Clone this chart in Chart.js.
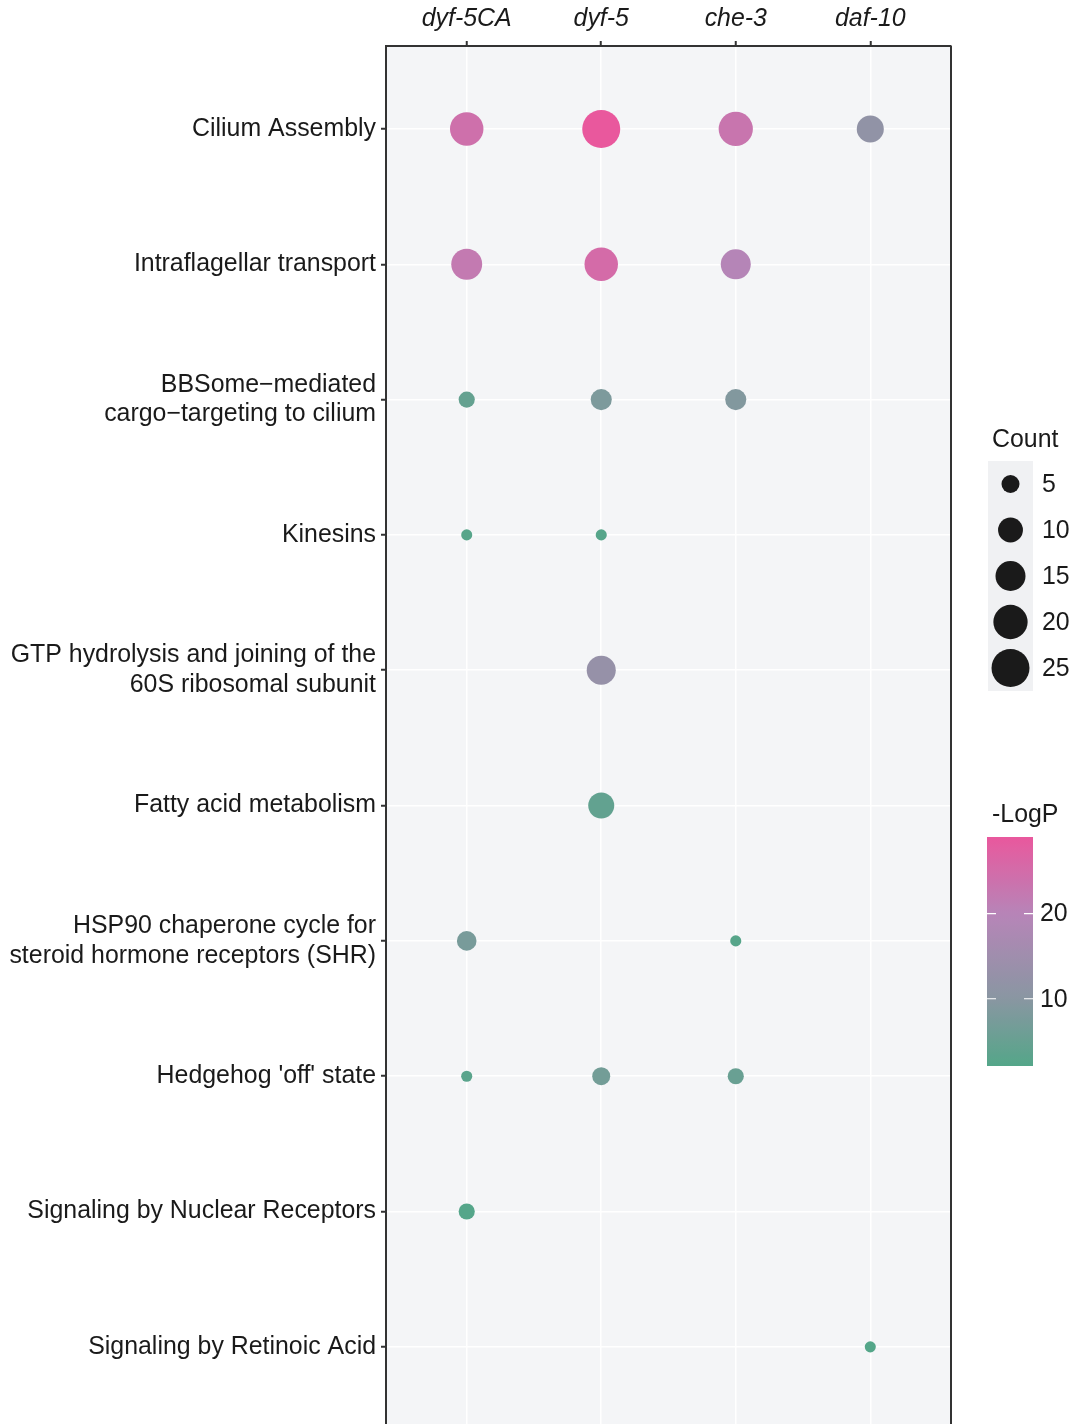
<!DOCTYPE html>
<html>
<head>
<meta charset="utf-8">
<title>Pathway enrichment dot plot</title>
<script src="https://cdn.jsdelivr.net/npm/chart.js@4.4.1/dist/chart.umd.min.js"></script>
<style>
  html, body { margin: 0; padding: 0; background: #ffffff; }
  #wrap { width: 1075px; height: 1424px; position: relative; overflow: hidden; }
</style>
</head>
<body>
<div id="wrap"><canvas id="plot" width="1075" height="1424"></canvas></div>
<script>
// Genes along the top axis
const genes = ['dyf-5CA', 'dyf-5', 'che-3', 'daf-10'];

// Enriched pathways, top to bottom ('\n' breaks a label into two lines)
const pathways = [
  'Cilium Assembly',
  'Intraflagellar transport',
  'BBSome\u2212mediated\ncargo\u2212targeting to cilium',
  'Kinesins',
  'GTP hydrolysis and joining of the\n60S ribosomal subunit',
  'Fatty acid metabolism',
  'HSP90 chaperone cycle for\nsteroid hormone receptors (SHR)',
  "Hedgehog 'off' state",
  'Signaling by Nuclear Receptors',
  'Signaling by Retinoic Acid'
];

// Gene counts per pathway (null = not enriched)
const countDyf5CA = [19, 16, 4, 2, null, null, 6, 2, 4, null];
const countDyf5   = [25, 19, 7, 2, 14, 11, null, 5, null, null];
const countChe3   = [20, 15, 7, null, null, null, 2, 4, null, null];
const countDaf10  = [12, null, null, null, null, null, null, null, null, 2];

// -log10(P) per pathway
const logpDyf5CA = [24.2, 22.1, 4.5, 2.5, null, null, 7.5, 3.0, 2.3, null];
const logpDyf5   = [29.0, 25.2, 8.2, 2.4, 12.9, 4.2, null, 6.7, null, null];
const logpChe3   = [23.1, 19.6, 9.0, null, null, null, 2.5, 5.3, null, null];
const logpDaf10  = [11.8, null, null, null, null, null, null, null, null, 2.1];

// Legend breaks
const countBreaks = [5, 10, 15, 20, 25];
const logpBreaks = [10, 20];

const counts = [countDyf5CA, countDyf5, countChe3, countDaf10];
const logps  = [logpDyf5CA, logpDyf5, logpChe3, logpDaf10];

// ---- size scale (area palette, like ggplot's scale_size) ----
const countDomain = [1, 25];
const diamRange = [4.2, 38];
function radiusOf(c) {
  const t = Math.max(0, (c - countDomain[0]) / (countDomain[1] - countDomain[0]));
  return (diamRange[0] + (diamRange[1] - diamRange[0]) * Math.sqrt(t)) / 2;
}

// ---- colour scale ----
const allLogp = logps.flat().filter(v => v !== null);
const logpMin = Math.min(...allLogp);
const logpMax = Math.max(...allLogp);
const colorStops = [
  [0.00, [84, 166, 137]],
  [0.30, [138, 150, 162]],
  [0.66, [182, 133, 184]],
  [1.00, [233, 88, 157]]
];
function colorAt(t) {
  t = Math.min(1, Math.max(0, t));
  for (let i = 1; i < colorStops.length; i++) {
    const [t1, c1] = colorStops[i];
    const [t0, c0] = colorStops[i - 1];
    if (t <= t1) {
      const s = (t - t0) / (t1 - t0);
      const c = c0.map((v, k) => Math.round(v + (c1[k] - v) * s));
      return `rgb(${c[0]},${c[1]},${c[2]})`;
    }
  }
  const c = colorStops[colorStops.length - 1][1];
  return `rgb(${c[0]},${c[1]},${c[2]})`;
}
function colorOf(v) { return colorAt((v - logpMin) / (logpMax - logpMin)); }

// ---- points ----
const points = [];
genes.forEach((g, gi) => {
  pathways.forEach((p, pi) => {
    const c = counts[gi][pi];
    if (c !== null) points.push({ x: gi, y: pi, count: c, logp: logps[gi][pi] });
  });
});

const FONT = '"Liberation Sans", Arial, Helvetica, sans-serif';
const FSIZE = 24.9;
const TEXT = '#1a1a1a';

const panelPlugin = {
  id: 'panel',
  beforeDraw(chart) {
    const { ctx, chartArea: a } = chart;
    ctx.save();
    ctx.fillStyle = '#f4f5f7';
    ctx.fillRect(a.left, a.top, a.right - a.left, a.bottom - a.top);
    ctx.restore();
  },
  afterDatasetsDraw(chart) {
    const { ctx, chartArea: a } = chart;
    ctx.save();
    ctx.strokeStyle = '#333333';
    ctx.lineWidth = 2;
    ctx.beginPath();
    ctx.moveTo(a.right, a.top);
    ctx.lineTo(a.right, a.bottom + 2);
    ctx.stroke();
    ctx.restore();
  }
};

// Size legend ("Count") and colour bar ("-LogP")
const legendPlugin = {
  id: 'sideLegends',
  afterDraw(chart) {
    const ctx = chart.ctx;
    ctx.save();
    ctx.font = `${FSIZE}px ${FONT}`;
    ctx.fillStyle = TEXT;
    ctx.textAlign = 'left';
    ctx.textBaseline = 'alphabetic';
    ctx.fillText('Count', 992, 447);

    const keyX = 988, keyW = 45, keyTop = 461, keyH = 46;
    ctx.fillStyle = '#f0f1f3';
    ctx.fillRect(keyX, keyTop, keyW, keyH * countBreaks.length);
    countBreaks.forEach((b, i) => {
      const cy = keyTop + keyH * i + keyH / 2;
      ctx.fillStyle = '#1a1a1a';
      ctx.beginPath();
      ctx.arc(keyX + keyW / 2, cy, radiusOf(b), 0, Math.PI * 2);
      ctx.fill();
      ctx.fillStyle = TEXT;
      ctx.textBaseline = 'middle';
      ctx.fillText(String(b), 1042, cy + 1);
    });

    ctx.textBaseline = 'alphabetic';
    ctx.fillText('-LogP', 992, 822);
    const barX = 987, barW = 46, barTop = 837, barBot = 1066;
    const grad = ctx.createLinearGradient(0, barBot, 0, barTop);
    for (let i = 0; i <= 40; i++) grad.addColorStop(i / 40, colorAt(i / 40));
    ctx.fillStyle = grad;
    ctx.fillRect(barX, barTop, barW, barBot - barTop);
    logpBreaks.forEach(b => {
      const y = barBot - (b - logpMin) / (logpMax - logpMin) * (barBot - barTop);
      ctx.strokeStyle = '#ffffff';
      ctx.lineWidth = 1.2;
      ctx.beginPath();
      ctx.moveTo(barX, y); ctx.lineTo(barX + 9, y);
      ctx.moveTo(barX + barW - 9, y); ctx.lineTo(barX + barW, y);
      ctx.stroke();
      ctx.fillStyle = TEXT;
      ctx.textBaseline = 'middle';
      ctx.fillText(String(b), 1040, y + 1);
    });
    ctx.restore();
  }
};

new Chart(document.getElementById('plot'), {
  type: 'bubble',
  data: {
    datasets: [{
      data: points,
      radius: ctx => radiusOf(ctx.raw.count),
      hoverRadius: 0,
      backgroundColor: ctx => colorOf(ctx.raw.logp),
      borderWidth: 0
    }]
  },
  options: {
    responsive: false,
    animation: false,
    layout: { autoPadding: false, padding: { left: 0, right: 124, top: 0, bottom: 0 } },
    plugins: { legend: { display: false }, tooltip: { enabled: false } },
    scales: {
      x: {
        type: 'linear',
        position: 'top',
        min: -0.6,
        max: 3.6,
        afterBuildTicks: s => { s.ticks = genes.map((_, i) => ({ value: i })); },
        afterFit: s => { s.height = 46; s.paddingLeft = 0; s.paddingRight = 0; },
        ticks: {
          callback: v => genes[v],
          font: { family: FONT, size: FSIZE, style: 'italic' },
          color: TEXT,
          padding: 7,
          maxRotation: 0,
          autoSkip: false
        },
        grid: { color: '#ffffff', lineWidth: 1.5, tickColor: '#333333', tickLength: 5, tickWidth: 2 },
        border: { display: true, color: '#333333', width: 2 }
      },
      y: {
        type: 'linear',
        reverse: true,
        min: -0.613,
        max: 9.57,
        afterBuildTicks: s => { s.ticks = pathways.map((_, i) => ({ value: i })); },
        afterFit: s => { s.width = 386; s.paddingTop = 0; s.paddingBottom = 0; },
        ticks: {
          callback: v => pathways[v].split('\n'),
          font: { family: FONT, size: FSIZE, lineHeight: 1.2 },
          color: TEXT,
          padding: 5,
          autoSkip: false
        },
        grid: { color: '#ffffff', lineWidth: 1.5, tickColor: '#333333', tickLength: 5, tickWidth: 2 },
        border: { display: true, color: '#333333', width: 2 }
      }
    }
  },
  plugins: [panelPlugin, legendPlugin]
});
</script>
</body>
</html>
